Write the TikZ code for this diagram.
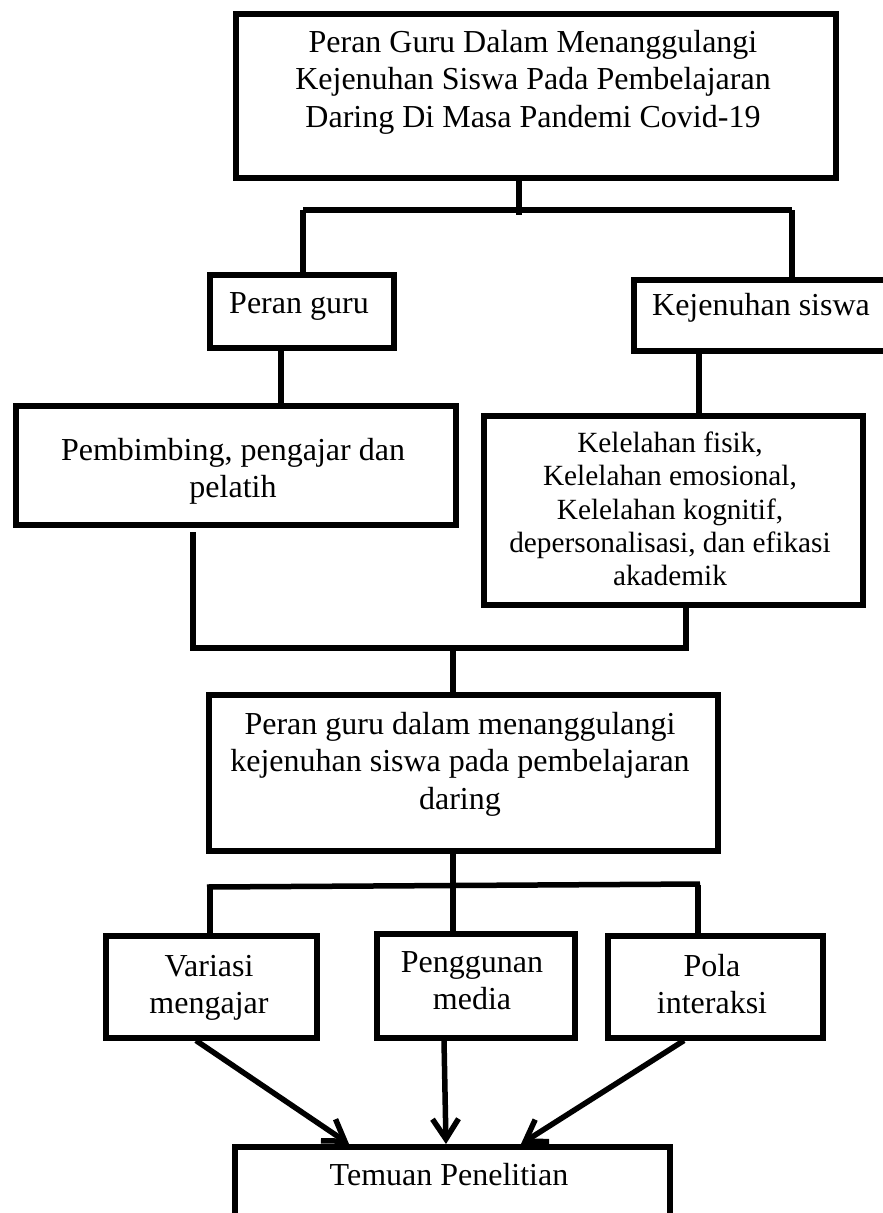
\documentclass[tikz,border=0pt]{standalone}
\usepackage{fontspec}
\setmainfont{Liberation Serif}
\usetikzlibrary{arrows.meta}
\newcommand{\fl}{\rule{0pt}{24pt}}
\newcommand{\fls}{\rule{0pt}{22pt}}
\begin{document}
\begin{tikzpicture}[x=1pt,y=-1pt,
  box/.style={draw, line width=5.5pt, inner sep=0pt, anchor=north west},
  txt/.style={inner sep=0pt, align=center, anchor=north, font=\fontsize{32}{37.5}\selectfont},
  txts/.style={inner sep=0pt, align=center, anchor=north, font=\fontsize{29.3}{33.4}\selectfont},
  ln/.style={line width=5.5pt},
  arr/.style={line width=5.5pt, -{Straight Barb[length=20pt,width=26pt]}}]
\useasboundingbox[fill=white] (0,0) rectangle (883,1213);
% boxes
\node[box, minimum width=600pt, minimum height=164pt] (top) at (233,11) {};
\node[box, minimum width=184pt, minimum height=73pt] (pg) at (207,272) {};
\node[box, minimum width=280pt, minimum height=71pt] (ks) at (631,277) {};
\node[box, minimum width=440pt, minimum height=119pt] (pb) at (13,403) {};
\node[box, minimum width=379pt, minimum height=189pt] (kl) at (481,413) {};
\node[box, minimum width=509pt, minimum height=156pt] (mid) at (206,692) {};
\node[box, minimum width=211pt, minimum height=102pt] (va) at (103,933) {};
\node[box, minimum width=198pt, minimum height=104pt] (pm) at (374,931) {};
\node[box, minimum width=215pt, minimum height=102pt] (po) at (605,933) {};
\node[box, minimum width=435pt, minimum height=100pt] (tp) at (232,1144) {};
% texts
\node[txt] (ttop) at (533,28) {\fl Peran Guru Dalam Menanggulangi\\Kejenuhan Siswa Pada Pembelajaran\\Daring Di Masa Pandemi Covid-19};
\node[txt] (tpg) at (299,289) {\fl Peran guru};
\node[txt] (tks) at (761,291) {\fl Kejenuhan siswa};
\node[txt] (tpb) at (233,436) {\fl Pembimbing, pengajar dan\\pelatih};
\node[txts] (tkl) at (670,430) {\fls Kelelahan fisik,\\Kelelahan emosional,\\Kelelahan kognitif,\\depersonalisasi, dan efikasi\\akademik};
\node[txt] (tmid) at (460,710) {\fl Peran guru dalam menanggulangi\\kejenuhan siswa pada pembelajaran\\daring};
\node[txt] (tva) at (209,952) {\fl Variasi\\mengajar};
\node[txt] (tpm) at (472,948) {\fl Penggunan\\media};
\node[txt] (tpo) at (712,952) {\fl Pola\\interaksi};
\node[txt] (ttp) at (449,1161) {\fl Temuan Penelitian};
% junction coordinates
\coordinate (j1) at (519,210);
\coordinate (j1l) at (303,210);
\coordinate (j1r) at (792,210);
\coordinate (j2l) at (193,648);
\coordinate (j2r) at (686,648);
\coordinate (j2c) at (453,648);
\coordinate (pbs) at (193,532);
\coordinate (j3) at (453,886);
\coordinate (j3l) at (207,887);
\coordinate (j3r) at (700,884);
% connectors
\draw[ln] (top.south -| j1) -- ([yshift=-5pt]j1);
\draw[ln] (j1l) -- (j1r);
\draw[ln] (j1l) -- (pg.north -| j1l);
\draw[ln] (j1r) -- (ks.north -| j1r);
\draw[ln] (pg.south -| 281,0) -- (pb.north -| 281,0);
\draw[ln] (ks.south -| 699,0) -- (kl.north -| 699,0);
\draw[ln] (pbs) -- (j2l) -- (j2r);
\draw[ln] (kl.south -| j2r) -- ([yshift=-2.7pt]j2r);
\draw[ln] (j2c) -- (mid.north -| j2c);
\draw[ln] (mid.south -| j3) -- (j3);
\draw[ln] (j3l) -- (j3r);
\draw[ln] (210,886) -- (va.north -| 210,0);
\draw[ln] (j3) -- (pm.north -| j3);
\draw[ln] (698,885) -- (po.north -| 698,0);
\draw[arr] (va.south -| 196,0) -- (tp.north -| 349,0);
\draw[arr] (pm.south -| 444,0) -- (tp.north -| 446,0);
\draw[arr] (po.south -| 684,0) -- (tp.north -| 521,0);
\end{tikzpicture}
\end{document}
